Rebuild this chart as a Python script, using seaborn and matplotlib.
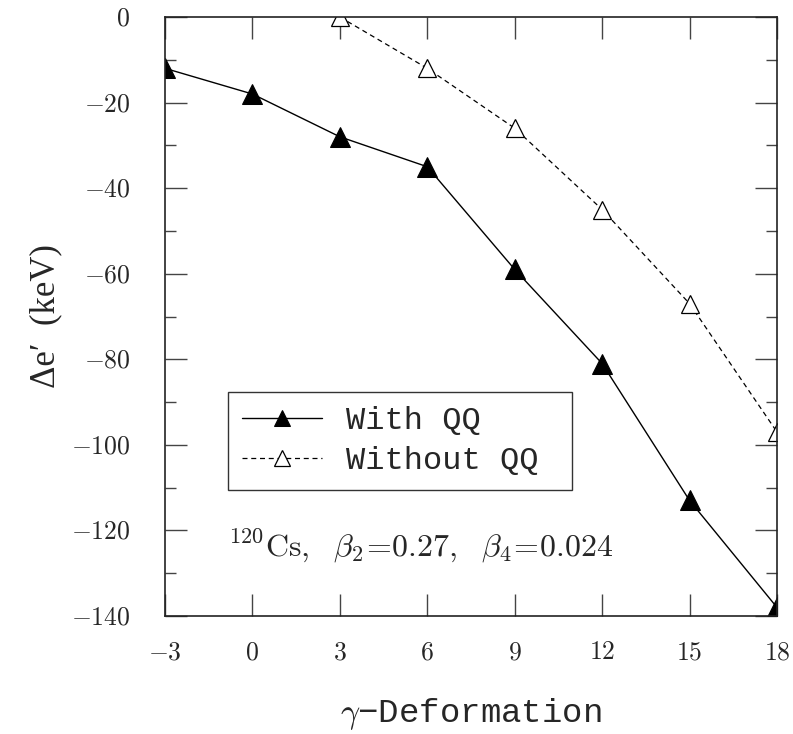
import matplotlib
matplotlib.use('agg')
import matplotlib.pyplot as plt
import numpy as np
import pandas as pd
import seaborn as sns
from matplotlib.ticker import MultipleLocator

# gamma deformation (deg) and energy shift (keV)
gamma_with = [-3, 0, 3, 6, 9, 12, 15, 18]
de_with = [-12, -18, -28, -35, -59, -81, -113, -138]
gamma_without = [3, 6, 9, 12, 15, 18]
de_without = [0, -12, -26, -45, -67, -97]

LABEL_WITH = 'With QQ'
LABEL_WITHOUT = 'Without QQ '
X_TICKS = [-3, 0, 3, 6, 9, 12, 15, 18]
Y_TICKS = [-140, -120, -100, -80, -60, -40, -20, 0]

MONO = ['Liberation Mono', 'DejaVu Sans Mono']

sns.set_style('ticks')
plt.rcParams['font.family'] = ['Liberation Serif', 'DejaVu Serif']
plt.rcParams['mathtext.fontset'] = 'cm'
plt.rcParams['axes.linewidth'] = 1.2

fig = plt.figure(figsize=(7.93, 7.34), dpi=100)
ax = fig.add_axes([165 / 793, 1 - 616 / 734, 612 / 793, 599 / 734])

df_with = pd.DataFrame({'gamma': gamma_with, 'de': de_with})
df_without = pd.DataFrame({'gamma': gamma_without, 'de': de_without})

sns.lineplot(data=df_with, x='gamma', y='de', ax=ax, color='black',
             linewidth=1.0, marker='^', markersize=14, markerfacecolor='black',
             markeredgecolor='black', label=LABEL_WITH)
sns.lineplot(data=df_without, x='gamma', y='de', ax=ax, color='black',
             linewidth=0.9, linestyle=(0, (4, 3)), marker='^', markersize=13,
             markerfacecolor='white', markeredgecolor='black',
             markeredgewidth=0.9, label=LABEL_WITHOUT)

ax.set_xlim(-3, 18)
ax.set_ylim(-140, 0)
ax.set_xticks(X_TICKS)
ax.set_yticks(Y_TICKS)
ax.set_xticklabels(['$%d$' % v for v in X_TICKS])
ax.set_yticklabels(['$%d$' % v for v in Y_TICKS])
ax.yaxis.set_minor_locator(MultipleLocator(10))
ax.tick_params(which='both', direction='in', top=True, right=True,
               labelsize=18.5, color='#444444')
ax.tick_params(which='major', length=16, width=1.0)
ax.tick_params(axis='x', which='major', pad=19)
ax.tick_params(axis='y', which='major', pad=25)
ax.tick_params(which='minor', length=8, width=1.0)
for spine in ax.spines.values():
    spine.set_visible(True)
    spine.set_color('#222222')

ax.set_xlabel(r'$\gamma$' + '\u2212Deformation', fontsize=24.5,
              family=MONO, labelpad=23)
ax.set_ylabel('\u0394e\u2032  (keV)', fontsize=25,
              family=['Liberation Serif', 'DejaVu Serif'], labelpad=6)

leg = ax.legend(loc='upper left', bbox_to_anchor=(0.103, 0.374),
                frameon=True, fancybox=False, handlelength=2.5,
                handletextpad=0.75, borderpad=0.45, borderaxespad=0,
                labelspacing=0.3, markerscale=0.85,
                prop={'family': MONO, 'size': 23})
leg.get_frame().set_edgecolor('black')
leg.get_frame().set_linewidth(1.0)

ax.text(-0.84, -126.0, r'$^{120}\mathrm{Cs},\ \ \beta_{2}\!=\!0.27,\ \ \beta_{4}\!=\!0.024$',
        fontsize=23, ha='left', va='baseline')

fig.savefig('out.png', dpi=100)
